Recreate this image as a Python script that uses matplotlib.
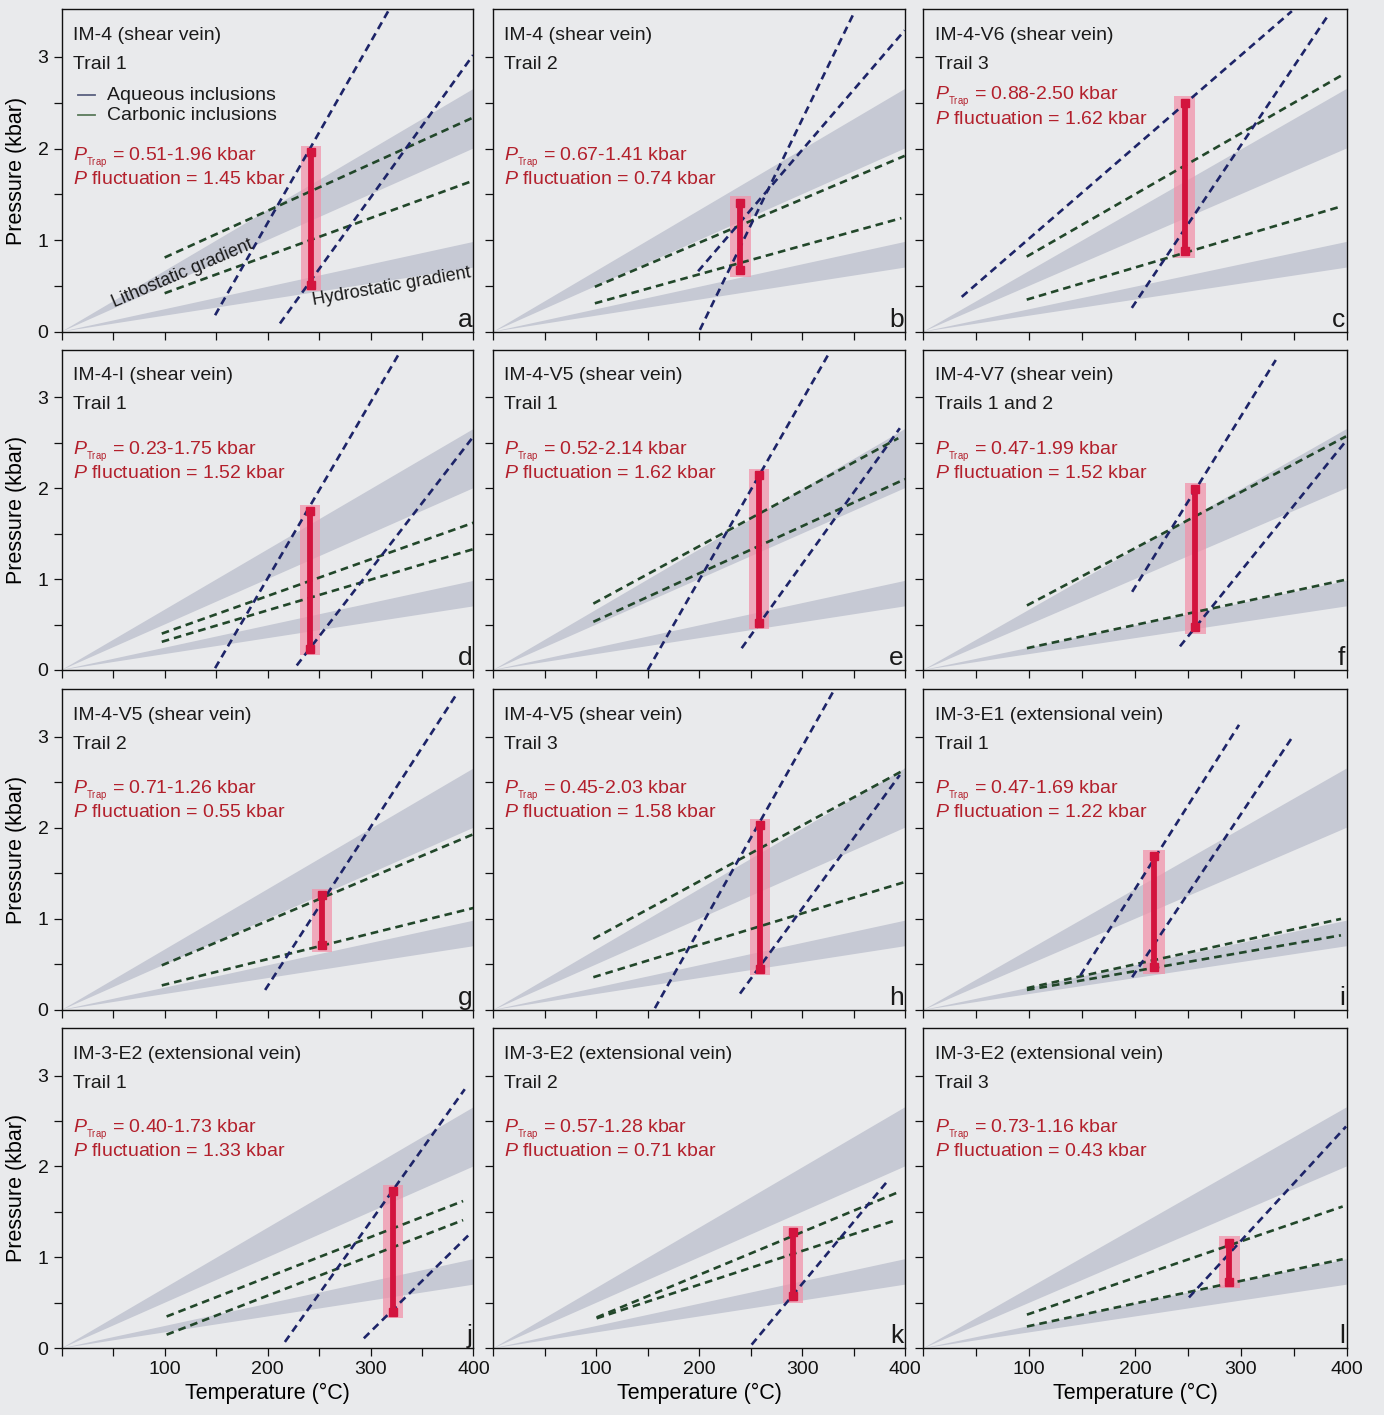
import matplotlib
matplotlib.use("Agg")
import matplotlib.pyplot as plt
import numpy as np

plt.rcParams['font.family'] = ['Liberation Sans', 'DejaVu Sans']
plt.rcParams['mathtext.fontset'] = 'custom'
plt.rcParams['mathtext.rm'] = 'Liberation Sans'
plt.rcParams['mathtext.it'] = 'Liberation Sans:italic'

# ---------------- data ----------------
panel_letters = ['a', 'b', 'c', 'd', 'e', 'f', 'g', 'h', 'i', 'j', 'k', 'l']
sample_names = ['IM-4 (shear vein)', 'IM-4 (shear vein)', 'IM-4-V6 (shear vein)',
                'IM-4-I (shear vein)', 'IM-4-V5 (shear vein)', 'IM-4-V7 (shear vein)',
                'IM-4-V5 (shear vein)', 'IM-4-V5 (shear vein)', 'IM-3-E1 (extensional vein)',
                'IM-3-E2 (extensional vein)', 'IM-3-E2 (extensional vein)', 'IM-3-E2 (extensional vein)']
trail_names = ['Trail 1', 'Trail 2', 'Trail 3', 'Trail 1', 'Trail 1', 'Trails 1 and 2',
               'Trail 2', 'Trail 3', 'Trail 1', 'Trail 1', 'Trail 2', 'Trail 3']
ptrap_min = [0.51, 0.67, 0.88, 0.23, 0.52, 0.47, 0.71, 0.45, 0.47, 0.40, 0.57, 0.73]
ptrap_max = [1.96, 1.41, 2.50, 1.75, 2.14, 1.99, 1.26, 2.03, 1.69, 1.73, 1.28, 1.16]
p_fluct = [1.45, 0.74, 1.62, 1.52, 1.62, 1.52, 0.55, 1.58, 1.22, 1.33, 0.71, 0.43]
trap_T = [242, 240, 247, 241, 258, 257, 253, 259, 218, 322, 291, 289]

# aqueous isochores (start T, start P, end T, end P) per panel
aq_T0 = [[149, 212], [200.7, 199], [36.3, 197], [149, 228.3], [150, 241.3], [197.3, 242.5],
         [197.6], [157, 239.7], [148.4, 197.3], [216.8, 293.5], [251], [251]]
aq_P0 = [[0.18, 0.09], [0.02, 0.66], [0.38, 0.26], [0.02, 0.05], [0.0, 0.24], [0.86, 0.26],
         [0.22], [0.02, 0.18], [0.38, 0.36], [0.07, 0.11], [0.04], [0.56]]
aq_T1 = [[318.7, 399.6], [349.5, 399.7], [348.2, 382.8], [328.7, 400], [327, 395], [333, 399.4],
         [383.8], [330, 395], [298.3, 348.9], [391.5, 394.8], [383.8], [399.4]]
aq_P1 = [[3.53, 3.02], [3.46, 3.29], [3.50, 3.46], [3.50, 2.57], [3.50, 2.66], [3.41, 2.52],
         [3.47], [3.49, 2.58], [3.13, 3.00], [2.85, 1.24], [1.85], [2.44]]

# carbonic isochores
cb_T0 = [[100, 100], [98.7, 98.7], [97.7, 97.7], [97.2, 97.2], [97.2, 97.2], [97.9, 97.9],
         [97.2, 97.2], [97.2, 97.2], [97.9, 97.9], [101.9, 101.9], [100.4, 100.4], [97.9, 97.9]]
cb_P0 = [[0.81, 0.42], [0.49, 0.31], [0.82, 0.35], [0.40, 0.31], [0.73, 0.53], [0.71, 0.24],
         [0.49, 0.27], [0.78, 0.36], [0.24, 0.22], [0.35, 0.15], [0.34, 0.33], [0.37, 0.24]]
cb_T1 = [[400, 400], [399.7, 396.5], [395.4, 395.4], [400, 400], [393.5, 400], [399.4, 397.8],
         [400, 400], [400, 398.4], [394.6, 394.6], [389.9, 389.9], [391.9, 388.7], [396.2, 396.2]]
cb_P1 = [[2.34, 1.65], [1.92, 1.24], [2.80, 1.37], [1.62, 1.33], [2.55, 2.10], [2.57, 0.99],
         [1.93, 1.12], [2.64, 1.40], [1.00, 0.82], [1.62, 1.41], [1.71, 1.40], [1.56, 0.98]]

# geothermal gradient bands: pressure at 400 C
litho_at400 = [2.00, 2.65]
hydro_at400 = [0.70, 0.98]

# ---------------- style ----------------
BG = '#e9eaec'
BAND = '#c6c9d4'
NAVY = '#1d2468'
GREEN = '#22472a'
RED_TXT = '#b3202c'
RED_BAR = '#d3143e'
PINK = '#f291a8'

W, H = 1384.0, 1415.0
col_left = [61.7, 493.3, 923.3]
col_w = [411.8, 411.7, 423.4]
row_top = [9.3, 350.0, 689.3, 1028.3]
row_bot = [331.7, 670.0, 1010.0, 1348.3]
YMAX = 3.52

# vertical position (axes fraction) of red annotation lines per panel
red_y = [0.54, 0.54, 0.727, 0.683, 0.683, 0.683, 0.683, 0.683, 0.683, 0.683, 0.683, 0.683]

fig = plt.figure(figsize=(W / 100, H / 100), dpi=100, facecolor=BG)

for idx in range(12):
    r, c = divmod(idx, 3)
    ax = fig.add_axes([col_left[c] / W, 1 - row_bot[r] / H, col_w[c] / W,
                       (row_bot[r] - row_top[r]) / H])
    ax.set_facecolor(BG)
    ax.set_xlim(0, 400)
    ax.set_ylim(0, YMAX)

    # gradient bands
    ax.fill([0, 400, 400], [0, litho_at400[1], litho_at400[0]], color=BAND, lw=0, zorder=1)
    ax.fill([0, 400, 400], [0, hydro_at400[1], hydro_at400[0]], color=BAND, lw=0, zorder=1)

    # trapping range shading
    T = trap_T[idx]
    ax.fill_between([T - 10, T + 10], ptrap_min[idx] - 0.07, ptrap_max[idx] + 0.07,
                    color=PINK, alpha=0.72, lw=0, zorder=2)

    # isochores
    for t0, p0, t1, p1 in zip(cb_T0[idx], cb_P0[idx], cb_T1[idx], cb_P1[idx]):
        ax.plot([t0, t1], [p0, p1], color=GREEN, lw=1.9, dashes=(2.9, 1.9), zorder=3)
    for t0, p0, t1, p1 in zip(aq_T0[idx], aq_P0[idx], aq_T1[idx], aq_P1[idx]):
        ax.plot([t0, t1], [p0, p1], color=NAVY, lw=1.9, dashes=(2.9, 1.9), zorder=3)

    # trapping pressure bar
    ax.plot([T, T], [ptrap_min[idx], ptrap_max[idx]], color=RED_BAR, lw=4.2,
            marker='s', ms=6, solid_capstyle='butt', zorder=4)

    # texts
    ax.text(0.027, 0.919, sample_names[idx], transform=ax.transAxes, fontsize=14,
            va='center', ha='left', color='#1a1a1a', zorder=6)
    ax.text(0.027, 0.829, trail_names[idx], transform=ax.transAxes, fontsize=14,
            va='center', ha='left', color='#1a1a1a', zorder=6)
    ax.text(0.027, red_y[idx],
            r"$P_{{}_{\mathrm{Trap}}}$" + " = %.2f-%.2f kbar" % (ptrap_min[idx], ptrap_max[idx]),
            transform=ax.transAxes, fontsize=14, va='center', ha='left', color=RED_TXT, zorder=6)
    ax.text(0.027, red_y[idx] - 0.068,
            r"$P$" + " fluctuation = %.2f kbar" % p_fluct[idx],
            transform=ax.transAxes, fontsize=14, va='center', ha='left', color=RED_TXT, zorder=6)
    ax.text(0.997, 0.0, panel_letters[idx], transform=ax.transAxes, fontsize=19,
            va='bottom', ha='right', color='#1a1a1a', zorder=6)

    if idx == 0:
        ax.plot([0.04, 0.08], [0.733, 0.733], transform=ax.transAxes, color='#5a6080', lw=1.3)
        ax.plot([0.04, 0.08], [0.671, 0.671], transform=ax.transAxes, color='#5a7a5a', lw=1.3)
        ax.text(0.11, 0.733, 'Aqueous inclusions', transform=ax.transAxes, fontsize=14,
                va='center', ha='left', color='#1a1a1a')
        ax.text(0.11, 0.671, 'Carbonic inclusions', transform=ax.transAxes, fontsize=14,
                va='center', ha='left', color='#1a1a1a')
        ax.text(117, 0.63, 'Lithostatic gradient', fontsize=13, rotation=23,
                ha='center', va='center', rotation_mode='anchor', color='#1a1a1a', zorder=6)
        ax.text(320, 0.49, 'Hydrostatic gradient', fontsize=13, rotation=10,
                ha='center', va='center', rotation_mode='anchor', color='#1a1a1a', zorder=6)

    # axes styling
    for s in ax.spines.values():
        s.set_linewidth(1.0)
        s.set_color('#111111')
    ax.set_xticks(np.arange(0, 401, 50))
    ax.set_yticks(np.arange(0, 3.01, 0.5))
    ax.tick_params(direction='out', length=5.5, width=0.9, labelsize=14, pad=4,
                   colors='#111111')
    if r == 3:
        ax.set_xticklabels(['', '', '100', '', '200', '', '300', '', '400'])
        ax.set_xlabel('Temperature (°C)', fontsize=15.5, labelpad=3)
    else:
        ax.tick_params(labelbottom=False)
    if c == 0:
        ax.set_yticklabels(['0', '', '1', '', '2', '', '3'])
        ax.set_ylabel('Pressure (kbar)', fontsize=15.5, labelpad=8)
    else:
        ax.tick_params(labelleft=False)

fig.savefig('out.png', dpi=100, facecolor=BG)
